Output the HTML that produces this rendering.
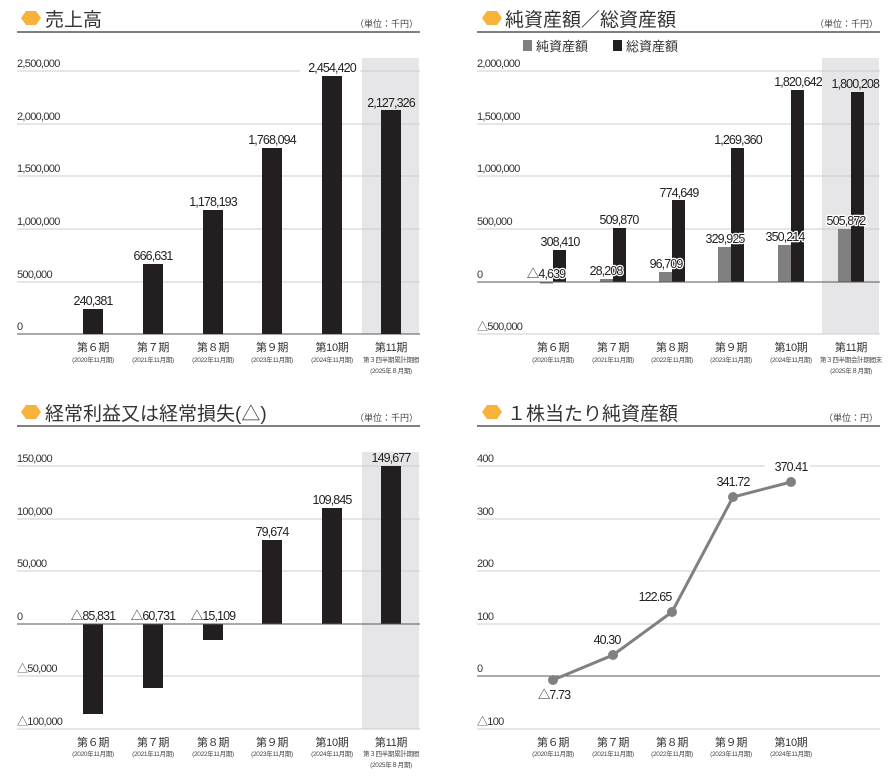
<!DOCTYPE html>
<html><head><meta charset="utf-8"><style>
html,body{margin:0;padding:0;background:#fff;}
svg{display:block;font-family:"Liberation Sans","Noto Sans CJK JP",sans-serif;}
.t{font-size:19px;fill:#333;}
.u{font-size:9px;fill:#444;}
.ax{font-size:11px;fill:#333;letter-spacing:-0.7px;}
.v{font-size:12.5px;fill:#222;text-anchor:middle;letter-spacing:-0.9px;}
.h{paint-order:stroke;stroke:#fff;stroke-width:2.5px;stroke-linejoin:round;}
.c{font-size:11px;fill:#333;text-anchor:middle;letter-spacing:-0.3px;}
.s{font-size:6.5px;fill:#444;text-anchor:middle;letter-spacing:-0.3px;}
.g{stroke:#ccc;stroke-width:1;}
.z{stroke:#555;stroke-width:1;}
</style></head><body>
<svg width="888" height="777" viewBox="0 0 888 777" xmlns="http://www.w3.org/2000/svg">
<!-- ===== Chart 1 ===== -->
<polygon points="26,11 36,11 41,18 36,25 26,25 21,18" fill="#f7b23b"/>
<text class="t" x="45" y="26">売上高</text>
<text class="u" x="418" y="27" text-anchor="end">（単位：千円）</text>
<line x1="17" y1="32" x2="420" y2="32" stroke="#333" stroke-width="1.3"/>
<rect x="362" y="58" width="57" height="276" fill="#e6e6e8"/>
<g class="g"><line x1="17" y1="71" x2="300" y2="71"/><line x1="360" y1="71" x2="420" y2="71"/><line x1="17" y1="124" x2="420" y2="124"/><line x1="17" y1="176" x2="420" y2="176"/><line x1="17" y1="229" x2="420" y2="229"/><line x1="17" y1="282" x2="420" y2="282"/></g>
<line class="z" x1="17" y1="334" x2="420" y2="334"/>
<g class="ax"><text x="17" y="67">2,500,000</text><text x="17" y="120">2,000,000</text><text x="17" y="172">1,500,000</text><text x="17" y="225">1,000,000</text><text x="17" y="278">500,000</text><text x="17" y="330">0</text></g>
<g fill="#231f20">
<rect x="83" y="309" width="20" height="25"/><rect x="143" y="264" width="20" height="70"/><rect x="203" y="210" width="20" height="124"/><rect x="262" y="148" width="20" height="186"/><rect x="322" y="76" width="20" height="258"/><rect x="381" y="110" width="20" height="224"/></g>
<g class="v"><text x="93" y="305">240,381</text><text x="153" y="260">666,631</text><text x="213" y="206">1,178,193</text><text x="272" y="144">1,768,094</text><text x="332" y="72">2,454,420</text><text x="391" y="107">2,127,326</text></g>
<g class="c"><text x="93" y="351">第６期</text><text x="153" y="351">第７期</text><text x="213" y="351">第８期</text><text x="272" y="351">第９期</text><text x="332" y="351">第10期</text><text x="391" y="351">第11期</text></g>
<g class="s"><text x="93" y="362">(2020年11月期)</text><text x="153" y="362">(2021年11月期)</text><text x="213" y="362">(2022年11月期)</text><text x="272" y="362">(2023年11月期)</text><text x="332" y="362">(2024年11月期)</text><text x="391" y="362">第３四半期累計期間</text><text x="391" y="373">(2025年８月期)</text></g>

<!-- ===== Chart 2 ===== -->
<polygon points="487,11 497,11 502,18 497,25 487,25 482,18" fill="#f7b23b"/>
<text class="t" x="505" y="26">純資産額／総資産額</text>
<text class="u" x="878" y="27" text-anchor="end">（単位：千円）</text>
<line x1="477" y1="32" x2="880" y2="32" stroke="#333" stroke-width="1.3"/>
<rect x="523" y="40" width="9" height="11" fill="#808080"/><text x="536" y="51" style="font-size:13px;fill:#333">純資産額</text>
<rect x="613" y="40" width="9" height="11" fill="#231f20"/><text x="626" y="51" style="font-size:13px;fill:#333">総資産額</text>
<rect x="822" y="58" width="57" height="276" fill="#e6e6e8"/>
<g class="g"><line x1="477" y1="71" x2="880" y2="71"/><line x1="477" y1="124" x2="880" y2="124"/><line x1="477" y1="176" x2="880" y2="176"/><line x1="477" y1="229" x2="880" y2="229"/><line x1="477" y1="334" x2="880" y2="334"/></g>
<g class="ax"><text x="477" y="67">2,000,000</text><text x="477" y="120">1,500,000</text><text x="477" y="172">1,000,000</text><text x="477" y="225">500,000</text><text x="477" y="278">0</text><text x="477" y="330">△500,000</text></g>
<g fill="#808080"><rect x="540" y="282" width="13" height="1.5"/><rect x="600" y="279" width="13" height="3"/><rect x="659" y="272" width="13" height="10"/><rect x="718" y="247" width="13" height="35"/><rect x="778" y="245" width="13" height="37"/><rect x="838" y="229" width="13" height="53"/></g>
<g fill="#231f20"><rect x="553" y="250" width="13" height="32"/><rect x="613" y="228" width="13" height="54"/><rect x="672" y="200" width="13" height="82"/><rect x="731" y="148" width="13" height="134"/><rect x="791" y="90" width="13" height="192"/><rect x="851" y="92" width="13" height="190"/></g>
<line class="z" x1="477" y1="282" x2="880" y2="282"/>
<g class="v"><text x="560" y="246">308,410</text><text x="619" y="224">509,870</text><text x="679" y="197">774,649</text><text x="738" y="144">1,269,360</text><text x="798" y="86">1,820,642</text><text x="879" y="88" text-anchor="end">1,800,208</text></g>
<g class="v h"><text x="546" y="278">△4,639</text><text x="606" y="275">28,208</text><text x="666" y="268">96,709</text><text x="725" y="243">329,925</text><text x="785" y="241">350,214</text><text x="846" y="225">505,872</text></g>
<g class="c"><text x="553" y="351">第６期</text><text x="613" y="351">第７期</text><text x="672" y="351">第８期</text><text x="731" y="351">第９期</text><text x="791" y="351">第10期</text><text x="851" y="351">第11期</text></g>
<g class="s"><text x="553" y="362">(2020年11月期)</text><text x="613" y="362">(2021年11月期)</text><text x="672" y="362">(2022年11月期)</text><text x="731" y="362">(2023年11月期)</text><text x="791" y="362">(2024年11月期)</text><text x="851" y="362">第３四半期会計期間末</text><text x="851" y="373">(2025年８月期)</text></g>

<!-- ===== Chart 3 ===== -->
<polygon points="26,405 36,405 41,412 36,419 26,419 21,412" fill="#f7b23b"/>
<text class="t" x="45" y="420">経常利益又は経常損失(△)</text>
<text class="u" x="418" y="421" text-anchor="end">（単位：千円）</text>
<line x1="17" y1="426" x2="420" y2="426" stroke="#333" stroke-width="1.3"/>
<rect x="362" y="452" width="57" height="277" fill="#e6e6e8"/>
<g class="g"><line x1="17" y1="466" x2="420" y2="466"/><line x1="17" y1="519" x2="420" y2="519"/><line x1="17" y1="571" x2="420" y2="571"/><line x1="17" y1="676" x2="420" y2="676"/><line x1="17" y1="729" x2="420" y2="729"/></g>
<g class="ax"><text x="17" y="462">150,000</text><text x="17" y="515">100,000</text><text x="17" y="567">50,000</text><text x="17" y="620">0</text><text x="17" y="672">△50,000</text><text x="17" y="725">△100,000</text></g>
<g fill="#231f20"><rect x="83" y="624" width="20" height="90"/><rect x="143" y="624" width="20" height="64"/><rect x="203" y="624" width="20" height="16"/><rect x="262" y="540" width="20" height="84"/><rect x="322" y="508" width="20" height="116"/><rect x="381" y="466" width="20" height="158"/></g>
<line class="z" x1="17" y1="624" x2="420" y2="624"/>
<g class="v"><text x="93" y="620">△85,831</text><text x="153" y="620">△60,731</text><text x="213" y="620">△15,109</text><text x="272" y="536">79,674</text><text x="332" y="504">109,845</text><text x="391" y="462">149,677</text></g>
<g class="c"><text x="93" y="746">第６期</text><text x="153" y="746">第７期</text><text x="213" y="746">第８期</text><text x="272" y="746">第９期</text><text x="332" y="746">第10期</text><text x="391" y="746">第11期</text></g>
<g class="s"><text x="93" y="756">(2020年11月期)</text><text x="153" y="756">(2021年11月期)</text><text x="213" y="756">(2022年11月期)</text><text x="272" y="756">(2023年11月期)</text><text x="332" y="756">(2024年11月期)</text><text x="391" y="756">第３四半期累計期間</text><text x="391" y="767">(2025年８月期)</text></g>

<!-- ===== Chart 4 ===== -->
<polygon points="487,405 497,405 502,412 497,419 487,419 482,412" fill="#f7b23b"/>
<text class="t" x="507" y="420">１株当たり純資産額</text>
<text class="u" x="878" y="421" text-anchor="end">（単位：円）</text>
<line x1="477" y1="426" x2="880" y2="426" stroke="#333" stroke-width="1.3"/>
<g class="g"><line x1="477" y1="466" x2="765" y2="466"/><line x1="810" y1="466" x2="880" y2="466"/><line x1="477" y1="519" x2="880" y2="519"/><line x1="477" y1="571" x2="880" y2="571"/><line x1="477" y1="624" x2="880" y2="624"/><line x1="477" y1="729" x2="880" y2="729"/></g>
<line class="z" x1="477" y1="676" x2="880" y2="676"/>
<g class="ax"><text x="477" y="462">400</text><text x="477" y="515">300</text><text x="477" y="567">200</text><text x="477" y="620">100</text><text x="477" y="672">0</text><text x="477" y="725">△100</text></g>
<polyline points="553,680 613,655 672,612 733,497 791,482" fill="none" stroke="#808080" stroke-width="3"/>
<g fill="#808080"><circle cx="553" cy="680" r="5"/><circle cx="613" cy="655" r="5"/><circle cx="672" cy="612" r="5"/><circle cx="733" cy="497" r="5"/><circle cx="791" cy="482" r="5"/></g>
<g class="v"><text x="554" y="699">△7.73</text><text x="607" y="644">40.30</text><text x="655" y="601">122.65</text><text x="733" y="486">341.72</text><text x="791" y="471">370.41</text></g>
<g class="c"><text x="553" y="746">第６期</text><text x="613" y="746">第７期</text><text x="672" y="746">第８期</text><text x="731" y="746">第９期</text><text x="791" y="746">第10期</text></g>
<g class="s"><text x="553" y="756">(2020年11月期)</text><text x="613" y="756">(2021年11月期)</text><text x="672" y="756">(2022年11月期)</text><text x="731" y="756">(2023年11月期)</text><text x="791" y="756">(2024年11月期)</text></g>
</svg>
</body></html>
